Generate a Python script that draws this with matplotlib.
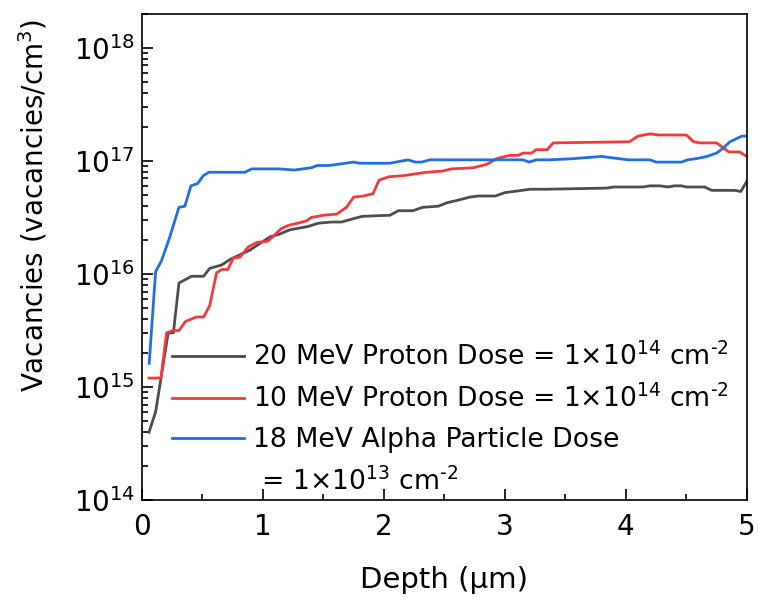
import matplotlib
matplotlib.use("Agg")
import matplotlib.pyplot as plt
from matplotlib.lines import Line2D
from matplotlib.ticker import LogLocator, MultipleLocator, NullFormatter

plt.rcParams["font.family"] = ["DejaVu Sans"]
plt.rcParams["mathtext.fontset"] = "dejavusans"

# depth (um) and log10(vacancies/cm^3)
gray_x = [0.058, 0.113, 0.149, 0.217, 0.26, 0.306, 0.34, 0.41, 0.51, 0.56, 0.66, 0.73, 0.81, 0.89, 0.975,
          1.06, 1.13, 1.22, 1.37, 1.46, 1.57, 1.65, 1.75, 1.82, 2.05, 2.12, 2.24, 2.32, 2.45, 2.52, 2.60,
          2.71, 2.78, 2.92, 3.00, 3.21, 3.34, 3.84, 3.90, 4.14, 4.20, 4.28, 4.35, 4.40, 4.46, 4.50, 4.65,
          4.71, 4.90, 4.95, 5.0]
gray_y = [14.60, 14.78, 15.02, 15.48, 15.48, 15.92, 15.94, 15.98, 15.98, 16.05, 16.08, 16.13, 16.17, 16.21, 16.27,
          16.33, 16.35, 16.39, 16.42, 16.45, 16.46, 16.46, 16.49, 16.51, 16.52, 16.56, 16.56, 16.59, 16.60, 16.63, 16.65,
          16.68, 16.69, 16.69, 16.72, 16.75, 16.75, 16.76, 16.77, 16.77, 16.78, 16.78, 16.77, 16.78, 16.78, 16.77, 16.77,
          16.74, 16.74, 16.73, 16.82]

red_x = [0.058, 0.157, 0.204, 0.26, 0.306, 0.36, 0.45, 0.51, 0.56, 0.617, 0.66, 0.71, 0.755, 0.81, 0.88, 0.95,
         1.04, 1.15, 1.21, 1.29, 1.36, 1.40, 1.50, 1.61, 1.69, 1.75, 1.83, 1.91, 1.96, 2.04, 2.16, 2.35, 2.48,
         2.56, 2.74, 2.85, 2.93, 3.04, 3.11, 3.15, 3.22, 3.26, 3.32, 3.35, 3.40, 4.03, 4.10, 4.20, 4.27, 4.50,
         4.56, 4.61, 4.75, 4.85, 4.94, 5.0]
red_y = [15.08, 15.08, 15.48, 15.50, 15.50, 15.58, 15.62, 15.62, 15.72, 16.01, 16.04, 16.04, 16.14, 16.15, 16.24, 16.28,
         16.29, 16.40, 16.43, 16.45, 16.47, 16.50, 16.52, 16.53, 16.59, 16.68, 16.69, 16.71, 16.83, 16.86, 16.87, 16.90, 16.91,
         16.93, 16.94, 16.97, 17.02, 17.05, 17.05, 17.07, 17.07, 17.10, 17.10, 17.10, 17.16, 17.17, 17.22, 17.24, 17.23, 17.23,
         17.17, 17.16, 17.16, 17.08, 17.08, 17.04]

blue_x = [0.06, 0.113, 0.163, 0.231, 0.306, 0.355, 0.405, 0.46, 0.507, 0.554, 0.851, 0.907, 1.13, 1.26, 1.40,
          1.45, 1.55, 1.75, 1.80, 2.05, 2.10, 2.20, 2.26, 2.31, 2.38, 3.15, 3.20, 3.26, 3.37, 3.56, 3.80, 3.87,
          4.02, 4.20, 4.25, 4.46, 4.51, 4.58, 4.67, 4.75, 4.80, 4.86, 4.96, 5.0]
blue_y = [15.21, 16.02, 16.12, 16.33, 16.59, 16.60, 16.78, 16.80, 16.87, 16.90, 16.90, 16.93, 16.93, 16.92, 16.94,
          16.96, 16.96, 16.99, 16.98, 16.98, 16.99, 17.01, 16.99, 16.99, 17.01, 17.01, 16.99, 17.01, 17.01, 17.02, 17.04, 17.03,
          17.01, 17.01, 16.99, 16.99, 17.01, 17.02, 17.04, 17.07, 17.11, 17.17, 17.22, 17.22]

labels = ["20 MeV Proton Dose = 1$\\times$10$^{14}$ cm$^{\u20102}$",
          "10 MeV Proton Dose = 1$\\times$10$^{14}$ cm$^{\u20102}$",
          "18 MeV Alpha Particle Dose",
          " = 1$\\times$10$^{13}$ cm$^{\u20102}$"]
colors = ["#4d4d4d", "#f2393b", "#1f6fe0"]

fig = plt.figure(figsize=(7.59, 6.04), dpi=100)
ax = fig.add_axes([0.187, 0.172, 0.797, 0.805])

for xs, ys, c in zip([gray_x, red_x, blue_x], [gray_y, red_y, blue_y], colors):
    ax.plot(xs, [10 ** v for v in ys], color=c, lw=2.0)

ax.set_yscale("log")
ax.set_xlim(0, 5)
ax.set_ylim(1e14, 2e18)
ax.xaxis.set_major_locator(MultipleLocator(1))
ax.xaxis.set_minor_locator(MultipleLocator(0.5))
ax.yaxis.set_major_locator(LogLocator(base=10, numticks=10))
ax.yaxis.set_minor_locator(LogLocator(base=10, subs=range(2, 10), numticks=20))
ax.yaxis.set_minor_formatter(NullFormatter())
ax.tick_params(which="both", direction="in", top=False, right=False, width=1.2, labelsize=20)
ax.tick_params(which="major", length=8)
ax.tick_params(axis="x", which="major", pad=9)
ax.tick_params(axis="y", which="major", pad=5)
ax.tick_params(which="minor", length=4)
for s in ax.spines.values():
    s.set_linewidth(1.2)

ax.set_xlabel("Depth (\u03bcm)", fontsize=21, labelpad=18)
ax.set_ylabel("Vacancies (vacancies/cm$^3$)", fontsize=20)
ax.yaxis.set_label_coords(-0.152, 0.607)

handles = [Line2D([], [], color=c, lw=2.0) for c in colors] + [Line2D([], [], color="none")]
ax.legend(handles, labels, loc="upper left", bbox_to_anchor=(0.05, 0.324), frameon=False,
          fontsize=19.2, handlelength=2.7, handletextpad=0.34, labelspacing=0.52,
          borderpad=0, borderaxespad=0)

fig.savefig("out.png", dpi=100)
